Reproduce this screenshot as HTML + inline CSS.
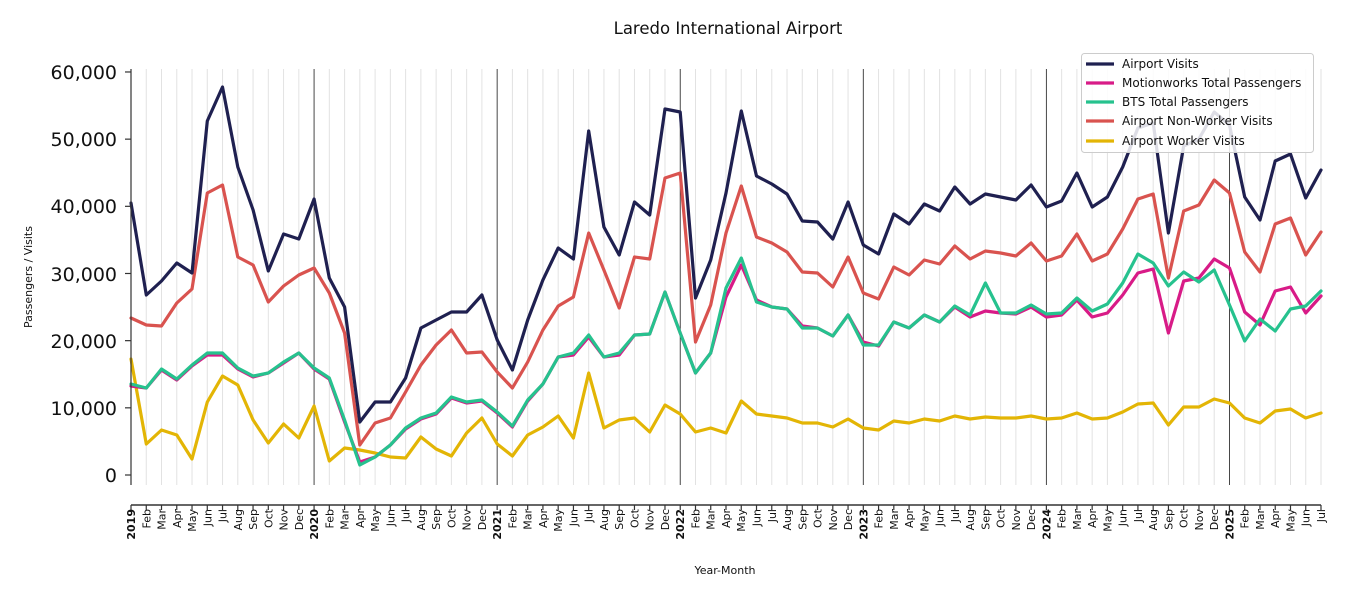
<!DOCTYPE html>
<html><head><meta charset="utf-8"><style>
body{margin:0;background:#fff;}
svg{display:block;font-family:"DejaVu Sans","Liberation Sans",sans-serif;}
</style></head><body>
<svg id="s" width="1350" height="600" viewBox="0 0 1350 600" xmlns="http://www.w3.org/2000/svg">
<rect width="1350" height="600" fill="#fff"/>
<g id="grid"></g>
<g id="lines" fill="none" stroke-width="3.2" stroke-linejoin="round" stroke-linecap="round"></g>
<line x1="131" y1="69" x2="131" y2="485" stroke="#333" stroke-width="1.2"/>
<line x1="131" y1="505" x2="1321" y2="505" stroke="#333" stroke-width="1.6"/>
<g id="ticks" stroke="#333" stroke-width="1.2"></g>
<g font-size="19" text-anchor="end" fill="#111">
<text x="117" y="79">60,000</text>
<text x="117" y="146">50,000</text>
<text x="117" y="213">40,000</text>
<text x="117" y="281">30,000</text>
<text x="117" y="348">20,000</text>
<text x="117" y="415">10,000</text>
<text x="117" y="482">0</text>
</g>
<text x="728" y="34" font-size="16.5" text-anchor="middle" fill="#111">Laredo International Airport</text>
<text transform="translate(32,277) rotate(-90)" font-size="11" text-anchor="middle" fill="#111">Passengers / Visits</text>
<text x="725" y="574" font-size="11" text-anchor="middle" fill="#111">Year-Month</text>
<g font-size="11" text-anchor="end" fill="#111">
<text font-weight="bold" transform="translate(135,509) rotate(-90)">2019</text>
<text transform="translate(150.3,509) rotate(-90)">Feb</text>
<text transform="translate(165.5,509) rotate(-90)">Mar</text>
<text transform="translate(180.8,509) rotate(-90)">Apr</text>
<text transform="translate(196,509) rotate(-90)">May</text>
<text transform="translate(211.3,509) rotate(-90)">Jun</text>
<text transform="translate(226.5,509) rotate(-90)">Jul</text>
<text transform="translate(241.8,509) rotate(-90)">Aug</text>
<text transform="translate(257,509) rotate(-90)">Sep</text>
<text transform="translate(272.3,509) rotate(-90)">Oct</text>
<text transform="translate(287.6,509) rotate(-90)">Nov</text>
<text transform="translate(302.8,509) rotate(-90)">Dec</text>
<text font-weight="bold" transform="translate(318.1,509) rotate(-90)">2020</text>
<text transform="translate(333.3,509) rotate(-90)">Feb</text>
<text transform="translate(348.6,509) rotate(-90)">Mar</text>
<text transform="translate(363.8,509) rotate(-90)">Apr</text>
<text transform="translate(379.1,509) rotate(-90)">May</text>
<text transform="translate(394.4,509) rotate(-90)">Jun</text>
<text transform="translate(409.6,509) rotate(-90)">Jul</text>
<text transform="translate(424.9,509) rotate(-90)">Aug</text>
<text transform="translate(440.1,509) rotate(-90)">Sep</text>
<text transform="translate(455.4,509) rotate(-90)">Oct</text>
<text transform="translate(470.6,509) rotate(-90)">Nov</text>
<text transform="translate(485.9,509) rotate(-90)">Dec</text>
<text font-weight="bold" transform="translate(501.1,509) rotate(-90)">2021</text>
<text transform="translate(516.4,509) rotate(-90)">Feb</text>
<text transform="translate(531.7,509) rotate(-90)">Mar</text>
<text transform="translate(546.9,509) rotate(-90)">Apr</text>
<text transform="translate(562.2,509) rotate(-90)">May</text>
<text transform="translate(577.4,509) rotate(-90)">Jun</text>
<text transform="translate(592.7,509) rotate(-90)">Jul</text>
<text transform="translate(607.9,509) rotate(-90)">Aug</text>
<text transform="translate(623.2,509) rotate(-90)">Sep</text>
<text transform="translate(638.4,509) rotate(-90)">Oct</text>
<text transform="translate(653.7,509) rotate(-90)">Nov</text>
<text transform="translate(669,509) rotate(-90)">Dec</text>
<text font-weight="bold" transform="translate(684.2,509) rotate(-90)">2022</text>
<text transform="translate(699.5,509) rotate(-90)">Feb</text>
<text transform="translate(714.7,509) rotate(-90)">Mar</text>
<text transform="translate(730,509) rotate(-90)">Apr</text>
<text transform="translate(745.2,509) rotate(-90)">May</text>
<text transform="translate(760.5,509) rotate(-90)">Jun</text>
<text transform="translate(775.8,509) rotate(-90)">Jul</text>
<text transform="translate(791,509) rotate(-90)">Aug</text>
<text transform="translate(806.3,509) rotate(-90)">Sep</text>
<text transform="translate(821.5,509) rotate(-90)">Oct</text>
<text transform="translate(836.8,509) rotate(-90)">Nov</text>
<text transform="translate(852,509) rotate(-90)">Dec</text>
<text font-weight="bold" transform="translate(867.3,509) rotate(-90)">2023</text>
<text transform="translate(882.5,509) rotate(-90)">Feb</text>
<text transform="translate(897.8,509) rotate(-90)">Mar</text>
<text transform="translate(913.1,509) rotate(-90)">Apr</text>
<text transform="translate(928.3,509) rotate(-90)">May</text>
<text transform="translate(943.6,509) rotate(-90)">Jun</text>
<text transform="translate(958.8,509) rotate(-90)">Jul</text>
<text transform="translate(974.1,509) rotate(-90)">Aug</text>
<text transform="translate(989.3,509) rotate(-90)">Sep</text>
<text transform="translate(1004.6,509) rotate(-90)">Oct</text>
<text transform="translate(1019.8,509) rotate(-90)">Nov</text>
<text transform="translate(1035.1,509) rotate(-90)">Dec</text>
<text font-weight="bold" transform="translate(1050.4,509) rotate(-90)">2024</text>
<text transform="translate(1065.6,509) rotate(-90)">Feb</text>
<text transform="translate(1080.9,509) rotate(-90)">Mar</text>
<text transform="translate(1096.1,509) rotate(-90)">Apr</text>
<text transform="translate(1111.4,509) rotate(-90)">May</text>
<text transform="translate(1126.6,509) rotate(-90)">Jun</text>
<text transform="translate(1141.9,509) rotate(-90)">Jul</text>
<text transform="translate(1157.2,509) rotate(-90)">Aug</text>
<text transform="translate(1172.4,509) rotate(-90)">Sep</text>
<text transform="translate(1187.7,509) rotate(-90)">Oct</text>
<text transform="translate(1202.9,509) rotate(-90)">Nov</text>
<text transform="translate(1218.2,509) rotate(-90)">Dec</text>
<text font-weight="bold" transform="translate(1233.4,509) rotate(-90)">2025</text>
<text transform="translate(1248.7,509) rotate(-90)">Feb</text>
<text transform="translate(1263.9,509) rotate(-90)">Mar</text>
<text transform="translate(1279.2,509) rotate(-90)">Apr</text>
<text transform="translate(1294.5,509) rotate(-90)">May</text>
<text transform="translate(1309.7,509) rotate(-90)">Jun</text>
<text transform="translate(1325,509) rotate(-90)">Jul</text>
</g>
<g>
<rect x="1081.5" y="53.5" width="232" height="99" rx="3" fill="#fff" fill-opacity="0.85" stroke="#ccc"/>
<g stroke-width="3.2">
<line x1="1086" y1="64" x2="1114" y2="64" stroke="#1f2050"/>
<line x1="1086" y1="83" x2="1114" y2="83" stroke="#d81b87"/>
<line x1="1086" y1="102" x2="1114" y2="102" stroke="#26c28e"/>
<line x1="1086" y1="121" x2="1114" y2="121" stroke="#d9534f"/>
<line x1="1086" y1="141" x2="1114" y2="141" stroke="#e3b505"/>
</g>
<g font-size="12" fill="#111">
<text x="1122" y="68">Airport Visits</text>
<text x="1122" y="87">Motionworks Total Passengers</text>
<text x="1122" y="106">BTS Total Passengers</text>
<text x="1122" y="125">Airport Non-Worker Visits</text>
<text x="1122" y="145">Airport Worker Visits</text>
</g>
</g>
</svg>
<script>
var NS="http://www.w3.org/2000/svg";
function X(i){return 131+15.2564*i;}
function el(p,t,a){var e=document.createElementNS(NS,t);for(var k in a)e.setAttribute(k,a[k]);p.appendChild(e);return e;}
var g=document.getElementById('grid'),tk=document.getElementById('ticks');
for(var i=0;i<79;i++){var x=X(i);
 if(i%12==0){el(g,'line',{x1:x,y1:69,x2:x,y2:485,stroke:'#333','stroke-width':0.9});}
 else el(g,'line',{x1:x,y1:69,x2:x,y2:485,stroke:'#e2e2e2','stroke-width':1});
 el(tk,'line',{x1:x,y1:505,x2:x,y2:510});
}
for(var j=0;j<7;j++){var y=475-j*67.17;el(tk,'line',{x1:125,y1:y,x2:131,y2:y});}
var D={
'#e3b505':[359,444,430,435,459,402,376,385,420,443,424,438,406,461,448,450,453,457,458,437,449,456,433,418,444,456,435,427,416,438,373,428,420,418,432,405,414,432,428,433,401,414,416,418,423,423,427,419,428,430,421,423,419,421,416,419,417,418,418,416,419,418,413,419,418,412,404,403,425,407,407,399,403,418,423,411,409,418,413],
'#d9534f':[318,325,326,303,289,193,185,257,265,302,286,275,268,293,333,445,423,418,392,365,345,330,353,352,372,388,362,330,306,297,233,270,308,257,259,178,173,342,305,233,186,237,243,252,272,273,287,257,293,299,267,275,260,264,246,259,251,253,256,243,261,256,234,261,254,229,199,194,278,211,205,180,193,252,272,224,218,255,232],
'#d81b87':[386,388,370,380,366,355,355,369,377,373,363,353,369,379,422,462,457,445,429,419,414,398,403,401,413,427,401,384,357,355,337,357,355,335,334,292,333,373,353,297,265,300,307,309,326,328,336,315,342,346,322,328,315,322,307,317,311,313,314,307,317,315,300,317,313,295,273,269,333,281,278,259,268,312,325,291,287,313,296],
'#26c28e':[384,388,369,379,365,353,353,368,376,373,362,353,368,378,420,465,457,445,428,418,413,397,402,400,412,426,400,384,357,353,335,357,353,335,334,292,333,373,353,288,258,302,307,309,328,328,336,315,345,345,322,328,315,322,306,315,283,313,313,305,314,313,298,311,304,283,254,263,286,272,282,270,305,341,319,331,309,306,291],
'#1f2050':[203,295,281,263,273,121,87,167,210,271,234,239,199,278,307,422,402,402,378,328,320,312,312,295,340,370,320,280,248,259,131,227,255,202,215,109,112,298,260,193,111,176,184,194,221,222,239,202,245,254,214,224,204,211,187,204,194,197,200,185,207,201,173,207,197,167,128,123,233,146,139,112,125,197,220,161,154,198,170]
};
var L=document.getElementById('lines');
for(var c in D){var a=D[c],p=[];for(var i=0;i<a.length;i++)p.push(X(i).toFixed(1)+','+a[i]);
 el(L,'polyline',{points:p.join(' '),stroke:c});}
</script>
</body></html>
